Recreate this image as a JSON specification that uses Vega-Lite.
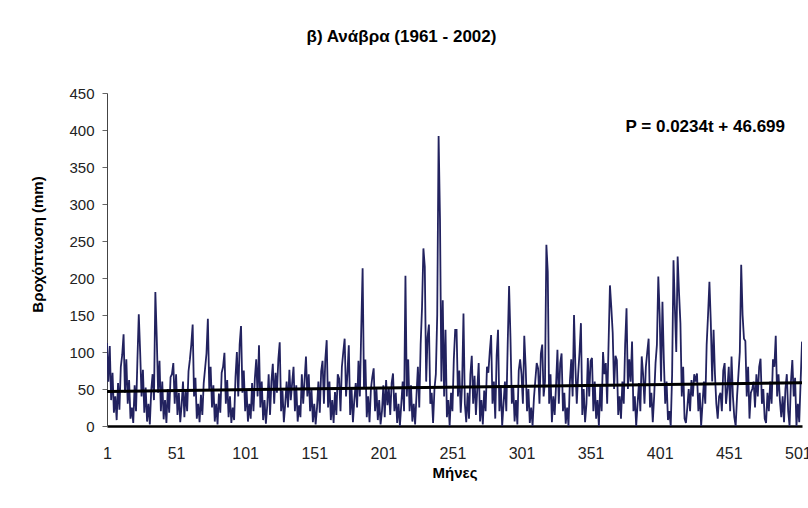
{
"$schema": "https://vega.github.io/schema/vega-lite/v6.json",
"width": 695,
"height": 333,
"autosize": {"type": "none"},
"padding": {"left": 107, "top": 93, "right": 6, "bottom": 82},
"background": "white",
"config": {"view": {"stroke": null}, "font": "Liberation Sans"},
"title": {"text": "β) Ανάβρα (1961 - 2002)", "font": "Liberation Sans", "fontSize": 17, "fontWeight": "bold", "color": "#000", "anchor": "middle", "dx": -53, "offset": 40},
"datasets": {
"rain": [
{"t":1,"p":112},{"t":2,"p":60},{"t":3,"p":108},{"t":4,"p":35},{"t":5,"p":72},{"t":6,"p":18},{"t":7,"p":40},{"t":8,"p":8},{"t":9,"p":58},{"t":10,"p":22},{"t":11,"p":80},{"t":12,"p":96},
{"t":13,"p":124},{"t":14,"p":45},{"t":15,"p":90},{"t":16,"p":30},{"t":17,"p":62},{"t":18,"p":10},{"t":19,"p":25},{"t":20,"p":4},{"t":21,"p":55},{"t":22,"p":20},{"t":23,"p":88},{"t":24,"p":151},
{"t":25,"p":100},{"t":26,"p":40},{"t":27,"p":76},{"t":28,"p":18},{"t":29,"p":52},{"t":30,"p":6},{"t":31,"p":30},{"t":32,"p":2},{"t":33,"p":48},{"t":34,"p":70},{"t":35,"p":35},{"t":36,"p":181},
{"t":37,"p":120},{"t":38,"p":45},{"t":39,"p":88},{"t":40,"p":20},{"t":41,"p":60},{"t":42,"p":9},{"t":43,"p":35},{"t":44,"p":4},{"t":45,"p":50},{"t":46,"p":18},{"t":47,"p":66},{"t":48,"p":70},
{"t":49,"p":85},{"t":50,"p":30},{"t":51,"p":70},{"t":52,"p":15},{"t":53,"p":45},{"t":54,"p":5},{"t":55,"p":28},{"t":56,"p":60},{"t":57,"p":12},{"t":58,"p":48},{"t":59,"p":20},{"t":60,"p":74},
{"t":61,"p":90},{"t":62,"p":110},{"t":63,"p":137},{"t":64,"p":40},{"t":65,"p":65},{"t":66,"p":10},{"t":67,"p":30},{"t":68,"p":5},{"t":69,"p":42},{"t":70,"p":15},{"t":71,"p":58},{"t":72,"p":78},
{"t":73,"p":98},{"t":74,"p":145},{"t":75,"p":50},{"t":76,"p":80},{"t":77,"p":25},{"t":78,"p":55},{"t":79,"p":6},{"t":80,"p":30},{"t":81,"p":2},{"t":82,"p":44},{"t":83,"p":18},{"t":84,"p":72},
{"t":85,"p":80},{"t":86,"p":99},{"t":87,"p":30},{"t":88,"p":62},{"t":89,"p":12},{"t":90,"p":40},{"t":91,"p":4},{"t":92,"p":25},{"t":93,"p":8},{"t":94,"p":66},{"t":95,"p":100},{"t":96,"p":40},
{"t":97,"p":110},{"t":98,"p":135},{"t":99,"p":45},{"t":100,"p":75},{"t":101,"p":20},{"t":102,"p":50},{"t":103,"p":6},{"t":104,"p":30},{"t":105,"p":10},{"t":106,"p":58},{"t":107,"p":20},{"t":108,"p":64},
{"t":109,"p":90},{"t":110,"p":40},{"t":111,"p":109},{"t":112,"p":25},{"t":113,"p":60},{"t":114,"p":8},{"t":115,"p":35},{"t":116,"p":3},{"t":117,"p":28},{"t":118,"p":70},{"t":119,"p":15},{"t":120,"p":60},
{"t":121,"p":84},{"t":122,"p":30},{"t":123,"p":72},{"t":124,"p":45},{"t":125,"p":90},{"t":126,"p":113},{"t":127,"p":20},{"t":128,"p":48},{"t":129,"p":5},{"t":130,"p":30},{"t":131,"p":60},{"t":132,"p":25},
{"t":133,"p":76},{"t":134,"p":35},{"t":135,"p":58},{"t":136,"p":80},{"t":137,"p":20},{"t":138,"p":55},{"t":139,"p":6},{"t":140,"p":28},{"t":141,"p":12},{"t":142,"p":70},{"t":143,"p":30},{"t":144,"p":62},
{"t":145,"p":94},{"t":146,"p":40},{"t":147,"p":70},{"t":148,"p":20},{"t":149,"p":50},{"t":150,"p":5},{"t":151,"p":30},{"t":152,"p":2},{"t":153,"p":25},{"t":154,"p":60},{"t":155,"p":18},{"t":156,"p":74},
{"t":157,"p":88},{"t":158,"p":30},{"t":159,"p":90},{"t":160,"p":116},{"t":161,"p":25},{"t":162,"p":60},{"t":163,"p":8},{"t":164,"p":35},{"t":165,"p":4},{"t":166,"p":46},{"t":167,"p":15},{"t":168,"p":70},
{"t":169,"p":64},{"t":170,"p":20},{"t":171,"p":80},{"t":172,"p":100},{"t":173,"p":118},{"t":174,"p":40},{"t":175,"p":70},{"t":176,"p":109},{"t":177,"p":15},{"t":178,"p":50},{"t":179,"p":5},{"t":180,"p":35},
{"t":181,"p":58},{"t":182,"p":25},{"t":183,"p":88},{"t":184,"p":40},{"t":185,"p":130},{"t":186,"p":213},{"t":187,"p":50},{"t":188,"p":90},{"t":189,"p":12},{"t":190,"p":40},{"t":191,"p":5},{"t":192,"p":50},
{"t":193,"p":66},{"t":194,"p":78},{"t":195,"p":20},{"t":196,"p":50},{"t":197,"p":8},{"t":198,"p":35},{"t":199,"p":2},{"t":200,"p":20},{"t":201,"p":55},{"t":202,"p":12},{"t":203,"p":62},{"t":204,"p":28},
{"t":205,"p":50},{"t":206,"p":15},{"t":207,"p":58},{"t":208,"p":71},{"t":209,"p":20},{"t":210,"p":45},{"t":211,"p":4},{"t":212,"p":30},{"t":213,"p":0},{"t":214,"p":30},{"t":215,"p":60},{"t":216,"p":20},
{"t":217,"p":203},{"t":218,"p":40},{"t":219,"p":90},{"t":220,"p":20},{"t":221,"p":55},{"t":222,"p":6},{"t":223,"p":30},{"t":224,"p":2},{"t":225,"p":42},{"t":226,"p":80},{"t":227,"p":25},{"t":228,"p":110},
{"t":229,"p":160},{"t":230,"p":240},{"t":231,"p":215},{"t":232,"p":60},{"t":233,"p":120},{"t":234,"p":137},{"t":235,"p":30},{"t":236,"p":45},{"t":237,"p":4},{"t":238,"p":50},{"t":239,"p":70},{"t":240,"p":150},
{"t":241,"p":392},{"t":242,"p":280},{"t":243,"p":60},{"t":244,"p":170},{"t":245,"p":40},{"t":246,"p":130},{"t":247,"p":12},{"t":248,"p":35},{"t":249,"p":0},{"t":250,"p":45},{"t":251,"p":20},{"t":252,"p":90},
{"t":253,"p":130},{"t":254,"p":130},{"t":255,"p":40},{"t":256,"p":75},{"t":257,"p":18},{"t":258,"p":55},{"t":259,"p":152},{"t":260,"p":30},{"t":261,"p":5},{"t":262,"p":45},{"t":263,"p":10},{"t":264,"p":70},
{"t":265,"p":95},{"t":266,"p":30},{"t":267,"p":68},{"t":268,"p":15},{"t":269,"p":50},{"t":270,"p":85},{"t":271,"p":6},{"t":272,"p":35},{"t":273,"p":2},{"t":274,"p":48},{"t":275,"p":20},{"t":276,"p":80},
{"t":277,"p":72},{"t":278,"p":100},{"t":279,"p":123},{"t":280,"p":30},{"t":281,"p":60},{"t":282,"p":10},{"t":283,"p":95},{"t":284,"p":130},{"t":285,"p":20},{"t":286,"p":55},{"t":287,"p":0},{"t":288,"p":30},
{"t":289,"p":60},{"t":290,"p":20},{"t":291,"p":110},{"t":292,"p":189},{"t":293,"p":120},{"t":294,"p":30},{"t":295,"p":55},{"t":296,"p":6},{"t":297,"p":35},{"t":298,"p":2},{"t":299,"p":75},{"t":300,"p":90},
{"t":301,"p":70},{"t":302,"p":30},{"t":303,"p":122},{"t":304,"p":80},{"t":305,"p":20},{"t":306,"p":50},{"t":307,"p":4},{"t":308,"p":25},{"t":309,"p":0},{"t":310,"p":38},{"t":311,"p":62},{"t":312,"p":85},
{"t":313,"p":78},{"t":314,"p":30},{"t":315,"p":98},{"t":316,"p":110},{"t":317,"p":40},{"t":318,"p":60},{"t":319,"p":245},{"t":320,"p":208},{"t":321,"p":30},{"t":322,"p":70},{"t":323,"p":5},{"t":324,"p":40},
{"t":325,"p":15},{"t":326,"p":55},{"t":327,"p":103},{"t":328,"p":30},{"t":329,"p":85},{"t":330,"p":98},{"t":331,"p":20},{"t":332,"p":45},{"t":333,"p":3},{"t":334,"p":25},{"t":335,"p":0},{"t":336,"p":60},
{"t":337,"p":90},{"t":338,"p":40},{"t":339,"p":150},{"t":340,"p":80},{"t":341,"p":30},{"t":342,"p":70},{"t":343,"p":100},{"t":344,"p":139},{"t":345,"p":15},{"t":346,"p":50},{"t":347,"p":5},{"t":348,"p":30},
{"t":349,"p":92},{"t":350,"p":40},{"t":351,"p":88},{"t":352,"p":92},{"t":353,"p":20},{"t":354,"p":60},{"t":355,"p":10},{"t":356,"p":35},{"t":357,"p":0},{"t":358,"p":55},{"t":359,"p":20},{"t":360,"p":100},
{"t":361,"p":70},{"t":362,"p":85},{"t":363,"p":30},{"t":364,"p":110},{"t":365,"p":190},{"t":366,"p":160},{"t":367,"p":126},{"t":368,"p":50},{"t":369,"p":95},{"t":370,"p":89},{"t":371,"p":15},{"t":372,"p":40},
{"t":373,"p":10},{"t":374,"p":60},{"t":375,"p":30},{"t":376,"p":110},{"t":377,"p":159},{"t":378,"p":50},{"t":379,"p":90},{"t":380,"p":60},{"t":381,"p":114},{"t":382,"p":20},{"t":383,"p":40},{"t":384,"p":0},
{"t":385,"p":30},{"t":386,"p":58},{"t":387,"p":20},{"t":388,"p":94},{"t":389,"p":70},{"t":390,"p":30},{"t":391,"p":80},{"t":392,"p":100},{"t":393,"p":118},{"t":394,"p":25},{"t":395,"p":45},{"t":396,"p":5},
{"t":397,"p":40},{"t":398,"p":85},{"t":399,"p":110},{"t":400,"p":202},{"t":401,"p":150},{"t":402,"p":60},{"t":403,"p":168},{"t":404,"p":90},{"t":405,"p":30},{"t":406,"p":60},{"t":407,"p":8},{"t":408,"p":20},
{"t":409,"p":0},{"t":410,"p":70},{"t":411,"p":224},{"t":412,"p":160},{"t":413,"p":100},{"t":414,"p":229},{"t":415,"p":180},{"t":416,"p":139},{"t":417,"p":40},{"t":418,"p":80},{"t":419,"p":10},{"t":420,"p":4},
{"t":421,"p":25},{"t":422,"p":50},{"t":423,"p":20},{"t":424,"p":62},{"t":425,"p":40},{"t":426,"p":70},{"t":427,"p":60},{"t":428,"p":71},{"t":429,"p":20},{"t":430,"p":45},{"t":431,"p":0},{"t":432,"p":30},
{"t":433,"p":60},{"t":434,"p":30},{"t":435,"p":110},{"t":436,"p":150},{"t":437,"p":195},{"t":438,"p":140},{"t":439,"p":60},{"t":440,"p":130},{"t":441,"p":70},{"t":442,"p":30},{"t":443,"p":10},{"t":444,"p":40},
{"t":445,"p":45},{"t":446,"p":20},{"t":447,"p":75},{"t":448,"p":85},{"t":449,"p":30},{"t":450,"p":50},{"t":451,"p":80},{"t":452,"p":20},{"t":453,"p":94},{"t":454,"p":40},{"t":455,"p":12},{"t":456,"p":0},
{"t":457,"p":40},{"t":458,"p":70},{"t":459,"p":100},{"t":460,"p":218},{"t":461,"p":150},{"t":462,"p":118},{"t":463,"p":115},{"t":464,"p":40},{"t":465,"p":80},{"t":466,"p":10},{"t":467,"p":45},{"t":468,"p":50},
{"t":469,"p":60},{"t":470,"p":25},{"t":471,"p":70},{"t":472,"p":40},{"t":473,"p":80},{"t":474,"p":91},{"t":475,"p":30},{"t":476,"p":50},{"t":477,"p":10},{"t":478,"p":4},{"t":479,"p":45},{"t":480,"p":20},
{"t":481,"p":60},{"t":482,"p":30},{"t":483,"p":90},{"t":484,"p":80},{"t":485,"p":122},{"t":486,"p":40},{"t":487,"p":70},{"t":488,"p":35},{"t":489,"p":12},{"t":490,"p":40},{"t":491,"p":5},{"t":492,"p":50},
{"t":493,"p":70},{"t":494,"p":20},{"t":495,"p":0},{"t":496,"p":60},{"t":497,"p":89},{"t":498,"p":40},{"t":499,"p":65},{"t":500,"p":0},{"t":501,"p":30},{"t":502,"p":5},{"t":503,"p":60},{"t":504,"p":114}
],
"trend": [{"t":1,"p":46.72},{"t":504,"p":58.49}],
"note": [{"t":434,"p":404,"label":"P = 0.0234t + 46.699"}]
},
"encoding": {
"x": {"field": "t", "type": "quantitative", "scale": {"domain": [1, 504], "nice": false, "zero": false},
"axis": {"values": [1,51,101,151,201,251,301,351,401,451,501], "title": "Μήνες", "grid": false, "ticks": false, "domainColor": "#000", "domainWidth": 2.5, "labelFont": "Liberation Sans", "labelFontSize": 16, "labelColor": "#222", "labelPadding": 19, "labelFlush": false, "labelOverlap": false, "titleFont": "Liberation Sans", "titleFontSize": 15, "titleFontWeight": "bold", "titleColor": "#000", "titlePadding": 4}},
"y": {"field": "p", "type": "quantitative", "scale": {"domain": [0, 450], "nice": false, "zero": true},
"axis": {"values": [0,50,100,150,200,250,300,350,400,450], "tickCount": 10, "title": "Βροχόπτωση (mm)", "grid": false, "ticks": true, "tickSize": 5, "tickColor": "#666", "domainColor": "#444", "domainWidth": 1, "labelFont": "Liberation Sans", "labelFontSize": 15, "labelColor": "#222", "labelPadding": 8, "labelOverlap": false, "labelFlush": false, "titleFont": "Liberation Sans", "titleFontSize": 15, "titleFontWeight": "bold", "titleColor": "#000", "titleX": -62, "titleY": 151}}
},
"layer": [
{
"data": {"name": "rain"},
"mark": {"type": "line", "color": "#22225f", "strokeWidth": 1.8, "clip": true}
},
{
"data": {"name": "trend"},
"mark": {"type": "line", "color": "#000", "strokeWidth": 3}
},
{
"data": {"name": "note"},
"mark": {"type": "text", "font": "Liberation Sans", "fontSize": 17, "fontWeight": "bold", "color": "#000", "align": "center", "baseline": "middle"},
"encoding": {"text": {"field": "label"}}
}
]
}
